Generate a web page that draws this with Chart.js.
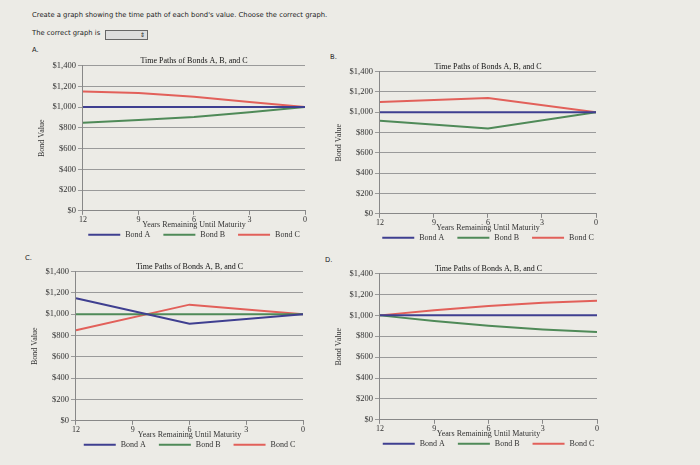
<!DOCTYPE html>
<html>
<head>
<meta charset="utf-8">
<script src="https://cdn.jsdelivr.net/npm/chart.js@4.4.1/dist/chart.umd.min.js"></script>
<style>
  body { margin: 0; background: #ecebe6; width: 700px; height: 465px; overflow: hidden; position: relative; font-family: "DejaVu Sans", sans-serif; color: #222; }
  .txt { position: absolute; font-size: 6.8px; white-space: nowrap; }
  .sel { position: absolute; left: 105px; top: 30px; width: 41px; height: 8px; border: 1px solid #666; background: #ddd; font-size: 6px; text-align: right; line-height: 8px; }
  canvas { position: absolute; }
</style>
</head>
<body>
<div class="txt" style="left:32px;top:11px">Create a graph showing the time path of each bond's value. Choose the correct graph.</div>
<div class="txt" style="left:32px;top:29px">The correct graph is</div>
<div class="sel">&#8661;&nbsp;</div>
<div class="txt" style="left:32px;top:46px">A.</div>
<div class="txt" style="left:330px;top:53px">B.</div>
<div class="txt" style="left:25px;top:254px">C.</div>
<div class="txt" style="left:325px;top:256px">D.</div>

<canvas id="chartA" width="276" height="190" style="left:37px;top:54px"></canvas>
<canvas id="chartB" width="270" height="187" style="left:334px;top:60px"></canvas>
<canvas id="chartC" width="281" height="194" style="left:30px;top:260px"></canvas>
<canvas id="chartD" width="271" height="191" style="left:334px;top:262px"></canvas>

<script>
// years remaining until maturity
var years = [12, 9, 6, 3, 0];
var kinkYears = [12, 6, 0];
var yTicks = [0, 200, 400, 600, 800, 1000, 1200, 1400];

// graph A
var a_bondA = [1000, 1000, 1000, 1000, 1000];
var a_bondB = [850, 875, 905, 950, 1000];
var a_bondC = [1150, 1135, 1100, 1050, 1000];
// graph B
var b_bondA = [1000, 1000, 1000];
var b_bondB = [915, 840, 1000];
var b_bondC = [1100, 1140, 1000];
// graph C
var c_bondA = [1150, 910, 1000];
var c_bondB = [1000, 1000, 1000];
var c_bondC = [850, 1090, 1000];
// graph D
var d_bondA = [1000, 1000, 1000, 1000, 1000];
var d_bondB = [1000, 945, 900, 865, 840];
var d_bondC = [1000, 1050, 1090, 1120, 1140];

var blue = "#3f3f90";
var green = "#4f8a58";
var red = "#e2605a";
var serif = "'Liberation Serif', 'Times New Roman', serif";

function pts(xs, ys) {
  return xs.map(function (x, i) { return { x: x, y: ys[i] }; });
}

// legend centred under the plot area, just below the axis title
var bottomLegend = {
  id: "bottomLegend",
  afterDraw: function (chart) {
    var ctx = chart.ctx;
    var area = chart.chartArea;
    var sets = chart.data.datasets;
    var lineW = 32, gap = 5, space = 13;
    ctx.save();
    ctx.font = "8px " + serif;
    var widths = sets.map(function (d) { return lineW + gap + ctx.measureText(d.label).width; });
    var total = widths.reduce(function (a, b) { return a + b; }, 0) + space * (sets.length - 1);
    var x = (area.left + area.right) / 2 - total / 2;
    var y = area.bottom + 24;
    sets.forEach(function (d, i) {
      ctx.strokeStyle = d.borderColor;
      ctx.lineWidth = 2;
      ctx.beginPath();
      ctx.moveTo(x, y);
      ctx.lineTo(x + lineW, y);
      ctx.stroke();
      ctx.fillStyle = "#333";
      ctx.textBaseline = "middle";
      ctx.fillText(d.label, x + lineW + gap, y + 0.5);
      x += widths[i] + space;
    });
    ctx.restore();
  },
};

function makeChart(id, xs, A, B, C) {
  var ctx = document.getElementById(id).getContext("2d");
  var ds = function (label, data, color) {
    return {
      label: label,
      data: pts(xs, data),
      borderColor: color,
      backgroundColor: color,
      borderWidth: 2,
      pointRadius: 0,
      tension: 0,
    };
  };
  return new Chart(ctx, {
    type: "line",
    data: {
      datasets: [ds("Bond A", A, blue), ds("Bond B", B, green), ds("Bond C", C, red)],
    },
    plugins: [bottomLegend],
    options: {
      responsive: false,
      animation: false,
      layout: { padding: { right: 8, top: 0, bottom: 12 } },
      plugins: {
        title: {
          display: true,
          fullSize: false,
          text: "Time Paths of Bonds A, B, and C",
          color: "#111",
          font: { family: serif, size: 8, weight: "normal" },
          padding: { top: 2, bottom: 0 },
        },
        legend: { display: false },
        tooltip: { enabled: false },
      },
      scales: {
        x: {
          type: "linear",
          reverse: true,
          min: 0,
          max: 12,
          ticks: { stepSize: 3, color: "#333", font: { family: serif, size: 8 }, padding: 0 },
          grid: { drawOnChartArea: false, drawTicks: true, tickLength: 4, color: "#888" },
          border: { color: "#888" },
          title: {
            display: true,
            text: "Years Remaining Until Maturity",
            color: "#333",
            font: { family: serif, size: 8 },
            padding: { top: -4, bottom: 2 },
          },
        },
        y: {
          min: 0,
          max: 1400,
          afterBuildTicks: function (axis) {
            axis.ticks = yTicks.map(function (v) { return { value: v }; });
          },
          ticks: {
            color: "#333",
            font: { family: serif, size: 8.5 },
            padding: 2,
            callback: function (v) { return "$" + v.toLocaleString("en-US"); },
          },
          grid: { color: "#9a9a9a", tickLength: 5 },
          border: { color: "#888" },
          title: {
            display: true,
            text: "Bond Value",
            color: "#333",
            font: { family: serif, size: 8 },
            padding: { top: 0, bottom: 4 },
          },
        },
      },
    },
  });
}

makeChart("chartA", years, a_bondA, a_bondB, a_bondC);
makeChart("chartB", kinkYears, b_bondA, b_bondB, b_bondC);
makeChart("chartC", kinkYears, c_bondA, c_bondB, c_bondC);
makeChart("chartD", years, d_bondA, d_bondB, d_bondC);
</script>
</body>
</html>
